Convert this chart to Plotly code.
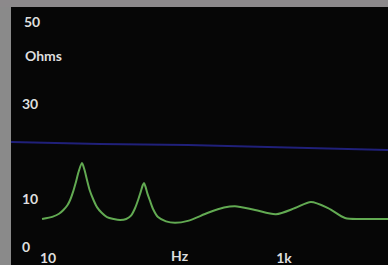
import plotly.graph_objects as go

# Impedance curve (frequency in Hz, impedance in ohms)
freq_hz = [8.9, 11.0, 12.4, 13.5, 14.6, 15.4, 16.3, 17.2, 18.2, 19.4, 20.4, 21.4, 22.6,
           24.2, 26.0, 28.5, 31.6, 36.0, 40.8, 46.0, 50.5, 54.5, 58.0, 61.0, 63.5, 65.1,
           67.0, 69.5, 73.0, 78.0, 85.5, 100, 119, 153, 227, 310, 384, 568, 855, 1240,
           1690, 2360, 3290, 4490, 7600]
impedance_ohm = [5.9, 6.4, 7.0, 7.8, 8.8, 9.9, 11.6, 13.6, 15.9, 17.7, 16.2, 14.1, 11.9,
                 10.0, 8.4, 7.2, 6.3, 5.9, 5.7, 5.9, 6.6, 8.1, 9.9, 11.6, 13.0, 13.5,
                 12.7, 11.3, 9.8, 7.9, 6.3, 5.4, 5.1, 5.5, 7.2, 8.3, 8.6, 7.8, 6.9, 8.2,
                 9.5, 8.2, 6.1, 5.9, 5.9]

# Reference (blue) line
ref_freq_hz = [4.86, 27.7, 153, 7600]
ref_ohm = [22.1, 21.7, 21.5, 20.4]

y_tickvals = [0, 10, 30]
y_ticktext = ["0", "10", "30"]
x_tickvals = [10, 1000]
x_ticktext = ["10", "1k"]

label_font = dict(family="Lato, Open Sans, sans-serif", size=14, color="#dedede", weight="bold")

fig = go.Figure()
fig.add_trace(go.Scatter(x=ref_freq_hz, y=ref_ohm, mode="lines",
                         line=dict(color="#20207a", width=2), hoverinfo="skip"))
fig.add_trace(go.Scatter(x=freq_hz, y=impedance_ohm, mode="lines",
                         line=dict(color="#62aa52", width=2, shape="spline", smoothing=0.8),
                         hoverinfo="skip"))

fig.update_layout(
    width=388, height=265,
    margin=dict(l=11, r=0, t=7, b=17, autoexpand=False),
    paper_bgcolor="#060606",
    plot_bgcolor="#060606",
    showlegend=False,
    font=label_font,
    xaxis=dict(type="log", range=[0.6864, 3.881], showgrid=False, zeroline=False,
               showline=False, ticks="", tickvals=x_tickvals, ticktext=x_ticktext,
               tickfont=label_font, automargin=False, ticklabelstandoff=0),
    yaxis=dict(range=[-0.21, 50.53], showgrid=False, zeroline=False, showline=False,
               ticks="", tickvals=y_tickvals, ticktext=y_ticktext,
               ticklabelposition="inside", ticklabeloverflow="allow",
               ticklabelstandoff=8, tickfont=label_font, automargin=False),
    annotations=[
        dict(text="50", xref="paper", yref="paper", x=0.0292, y=0.9378,
             xanchor="left", yanchor="middle", showarrow=False, font=label_font),
        dict(text="Ohms", xref="paper", yref="paper", x=0.0319, y=0.8008,
             xanchor="left", yanchor="middle", showarrow=False, font=label_font),
        dict(text="Hz", xref="x", yref="paper", x=2.118, y=-0.031,
             xanchor="center", yanchor="middle", showarrow=False, font=label_font),
    ],
    shapes=[
        dict(type="rect", xref="paper", yref="paper", x0=-0.03, x1=0.0, y0=-0.08, y1=1.03,
             fillcolor="#8a8a8a", line=dict(width=0), layer="above"),
        dict(type="rect", xref="paper", yref="paper", x0=-0.03, x1=1.0, y0=1.0, y1=1.03,
             fillcolor="#8c898b", line=dict(width=0), layer="above"),
    ],
)

fig.write_html("out.html", config={"displayModeBar": False, "staticPlot": True},
               post_script="document.body.style.margin='0';document.body.style.overflow='hidden';")
